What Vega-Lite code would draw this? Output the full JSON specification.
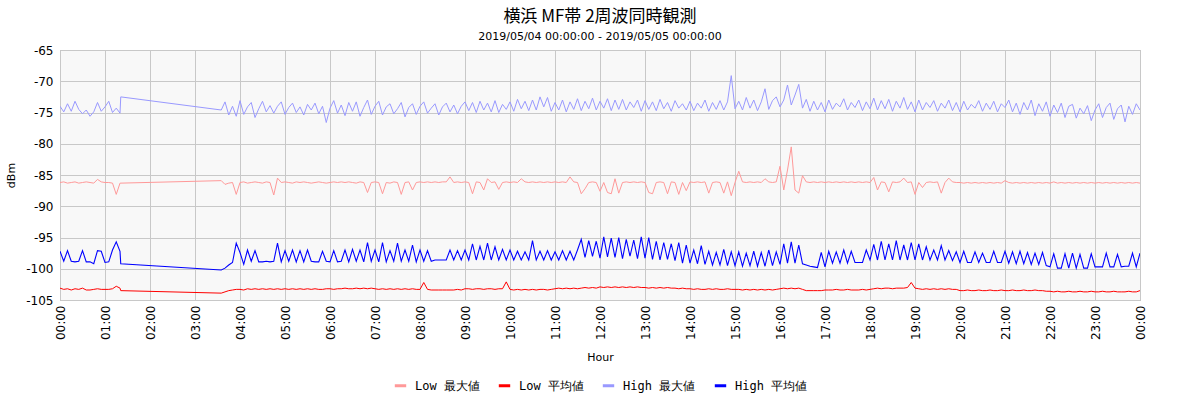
{
  "$schema": "https://vega.github.io/schema/vega-lite/v6.json",
  "description": "Yokohama MF band, two-frequency simultaneous observation, 2019-05-04.",
  "autosize": {"type": "none"},
  "padding": {"left": 60, "top": 50, "right": 60, "bottom": 100},
  "width": 1080,
  "height": 250,
  "background": "#ffffff",
  "title": {
    "text": "横浜 MF帯 2周波同時観測",
    "subtitle": "2019/05/04 00:00:00 - 2019/05/05 00:00:00",
    "anchor": "middle",
    "font": "Noto Sans CJK JP",
    "fontSize": 17,
    "fontWeight": "normal",
    "color": "#000000",
    "subtitleFont": "DejaVu Sans",
    "subtitleFontSize": 11,
    "subtitleColor": "#000000",
    "subtitlePadding": 5,
    "offset": 1
  },
  "data": {
    "values": [
      {"m": 0, "lm": -86.2, "la": -103.1, "hm": -74.0, "ha": -97.2},
      {"m": 5, "lm": -86.1, "la": -103.3, "hm": -74.9, "ha": -98.8},
      {"m": 10, "lm": -86.3, "la": -103.2, "hm": -73.6, "ha": -97.1},
      {"m": 15, "lm": -86.2, "la": -103.4, "hm": -74.8, "ha": -98.8},
      {"m": 20, "lm": -86.1, "la": -103.2, "hm": -73.2, "ha": -98.9},
      {"m": 25, "lm": -86.3, "la": -103.3, "hm": -74.5, "ha": -98.8},
      {"m": 30, "lm": -86.2, "la": -103.1, "hm": -75.2, "ha": -97.1},
      {"m": 35, "lm": -86.1, "la": -103.4, "hm": -74.6, "ha": -98.9},
      {"m": 40, "lm": -86.2, "la": -103.4, "hm": -75.6, "ha": -98.9},
      {"m": 45, "lm": -86.3, "la": -103.3, "hm": -74.9, "ha": -99.2},
      {"m": 50, "lm": -85.7, "la": -103.2, "hm": -73.4, "ha": -97.1},
      {"m": 55, "lm": -86.1, "la": -103.3, "hm": -74.8, "ha": -97.2},
      {"m": 60, "lm": -86.2, "la": -103.3, "hm": -74.1, "ha": -99.0},
      {"m": 65, "lm": -86.2, "la": -103.3, "hm": -73.2, "ha": -98.9},
      {"m": 70, "lm": -86.3, "la": -103.2, "hm": -75.0, "ha": -97.0},
      {"m": 75, "lm": -88.1, "la": -102.8, "hm": -74.3, "ha": -95.7},
      {"m": 80, "lm": -86.3, "la": -103.1, "hm": -75.1, "ha": -97.2},
      {"m": 81, "lm": -86.3, "la": -103.5, "hm": -72.5, "ha": -99.2},
      {"m": 215, "lm": -85.9, "la": -103.9, "hm": -74.6, "ha": -100.2},
      {"m": 220, "lm": -86.5, "la": -103.7, "hm": -73.3, "ha": -99.9},
      {"m": 225, "lm": -86.3, "la": -103.5, "hm": -75.4, "ha": -99.4},
      {"m": 230, "lm": -86.2, "la": -103.4, "hm": -74.0, "ha": -99.0},
      {"m": 235, "lm": -88.1, "la": -103.3, "hm": -75.6, "ha": -95.9},
      {"m": 240, "lm": -86.2, "la": -103.3, "hm": -73.1, "ha": -97.4},
      {"m": 245, "lm": -86.1, "la": -103.4, "hm": -75.3, "ha": -99.3},
      {"m": 250, "lm": -86.3, "la": -103.2, "hm": -74.1, "ha": -97.0},
      {"m": 255, "lm": -86.2, "la": -103.3, "hm": -73.4, "ha": -98.8},
      {"m": 260, "lm": -86.1, "la": -103.2, "hm": -75.8, "ha": -97.1},
      {"m": 265, "lm": -86.2, "la": -103.3, "hm": -74.4, "ha": -98.9},
      {"m": 270, "lm": -86.3, "la": -103.2, "hm": -73.2, "ha": -98.9},
      {"m": 275, "lm": -86.1, "la": -103.3, "hm": -74.9, "ha": -98.8},
      {"m": 280, "lm": -86.2, "la": -103.2, "hm": -73.9, "ha": -98.9},
      {"m": 285, "lm": -88.2, "la": -103.3, "hm": -75.1, "ha": -98.8},
      {"m": 290, "lm": -85.5, "la": -103.2, "hm": -74.0, "ha": -95.9},
      {"m": 295, "lm": -86.2, "la": -103.3, "hm": -73.3, "ha": -98.9},
      {"m": 300, "lm": -86.1, "la": -103.2, "hm": -75.3, "ha": -97.1},
      {"m": 305, "lm": -86.2, "la": -103.3, "hm": -74.2, "ha": -98.8},
      {"m": 310, "lm": -86.3, "la": -103.2, "hm": -73.5, "ha": -97.0},
      {"m": 315, "lm": -86.1, "la": -103.3, "hm": -75.0, "ha": -98.9},
      {"m": 320, "lm": -86.2, "la": -103.2, "hm": -74.1, "ha": -97.1},
      {"m": 325, "lm": -86.1, "la": -103.3, "hm": -75.4, "ha": -98.9},
      {"m": 330, "lm": -86.2, "la": -103.2, "hm": -73.7, "ha": -97.0},
      {"m": 335, "lm": -86.3, "la": -103.3, "hm": -74.6, "ha": -98.8},
      {"m": 340, "lm": -86.2, "la": -103.2, "hm": -73.5, "ha": -98.9},
      {"m": 345, "lm": -86.1, "la": -103.3, "hm": -75.2, "ha": -98.9},
      {"m": 350, "lm": -86.2, "la": -103.3, "hm": -74.0, "ha": -97.2},
      {"m": 355, "lm": -86.3, "la": -103.2, "hm": -76.6, "ha": -98.8},
      {"m": 360, "lm": -86.2, "la": -103.2, "hm": -74.3, "ha": -98.9},
      {"m": 365, "lm": -86.1, "la": -103.3, "hm": -73.1, "ha": -97.1},
      {"m": 370, "lm": -86.2, "la": -103.2, "hm": -75.1, "ha": -98.9},
      {"m": 375, "lm": -86.1, "la": -103.2, "hm": -73.8, "ha": -98.8},
      {"m": 380, "lm": -86.2, "la": -103.1, "hm": -75.5, "ha": -97.0},
      {"m": 385, "lm": -86.1, "la": -103.2, "hm": -73.4, "ha": -98.9},
      {"m": 390, "lm": -86.2, "la": -103.2, "hm": -74.8, "ha": -96.9},
      {"m": 395, "lm": -86.3, "la": -103.1, "hm": -73.3, "ha": -98.8},
      {"m": 400, "lm": -86.1, "la": -103.2, "hm": -75.6, "ha": -97.0},
      {"m": 405, "lm": -86.2, "la": -103.1, "hm": -74.2, "ha": -98.9},
      {"m": 410, "lm": -87.8, "la": -103.2, "hm": -73.0, "ha": -95.8},
      {"m": 415, "lm": -86.2, "la": -103.1, "hm": -75.3, "ha": -98.8},
      {"m": 420, "lm": -86.1, "la": -103.2, "hm": -74.0, "ha": -97.0},
      {"m": 425, "lm": -86.2, "la": -103.3, "hm": -73.2, "ha": -98.9},
      {"m": 430, "lm": -88.0, "la": -103.2, "hm": -75.4, "ha": -95.8},
      {"m": 435, "lm": -86.2, "la": -103.3, "hm": -74.1, "ha": -98.9},
      {"m": 440, "lm": -86.3, "la": -103.2, "hm": -73.6, "ha": -97.1},
      {"m": 445, "lm": -86.1, "la": -103.3, "hm": -75.2, "ha": -98.8},
      {"m": 450, "lm": -86.2, "la": -103.2, "hm": -74.4, "ha": -95.9},
      {"m": 455, "lm": -88.1, "la": -103.3, "hm": -73.4, "ha": -98.8},
      {"m": 460, "lm": -86.2, "la": -103.2, "hm": -75.7, "ha": -97.0},
      {"m": 465, "lm": -86.1, "la": -103.3, "hm": -74.2, "ha": -98.8},
      {"m": 470, "lm": -87.4, "la": -103.2, "hm": -73.6, "ha": -96.2},
      {"m": 475, "lm": -86.2, "la": -103.3, "hm": -75.3, "ha": -98.9},
      {"m": 480, "lm": -86.1, "la": -103.3, "hm": -74.0, "ha": -97.0},
      {"m": 485, "lm": -86.2, "la": -102.2, "hm": -73.3, "ha": -98.8},
      {"m": 490, "lm": -86.1, "la": -103.3, "hm": -75.1, "ha": -97.1},
      {"m": 495, "lm": -86.2, "la": -103.4, "hm": -74.3, "ha": -98.8},
      {"m": 500, "lm": -86.1, "la": -103.4, "hm": -73.6, "ha": -98.6},
      {"m": 505, "lm": -86.2, "la": -103.4, "hm": -75.4, "ha": -98.6},
      {"m": 510, "lm": -86.1, "la": -103.4, "hm": -74.1, "ha": -98.6},
      {"m": 515, "lm": -86.1, "la": -103.4, "hm": -73.5, "ha": -98.6},
      {"m": 520, "lm": -85.3, "la": -103.4, "hm": -74.9, "ha": -97.0},
      {"m": 525, "lm": -86.2, "la": -103.4, "hm": -73.8, "ha": -98.6},
      {"m": 530, "lm": -86.1, "la": -103.3, "hm": -75.2, "ha": -97.1},
      {"m": 535, "lm": -86.2, "la": -103.4, "hm": -74.0, "ha": -98.6},
      {"m": 540, "lm": -86.1, "la": -103.2, "hm": -73.3, "ha": -97.0},
      {"m": 545, "lm": -86.2, "la": -103.2, "hm": -74.7, "ha": -98.6},
      {"m": 550, "lm": -88.0, "la": -103.3, "hm": -73.4, "ha": -96.0},
      {"m": 555, "lm": -86.1, "la": -103.2, "hm": -75.0, "ha": -98.6},
      {"m": 560, "lm": -86.2, "la": -103.2, "hm": -73.2, "ha": -96.4},
      {"m": 565, "lm": -87.4, "la": -103.3, "hm": -74.6, "ha": -98.6},
      {"m": 570, "lm": -85.6, "la": -103.2, "hm": -73.5, "ha": -95.9},
      {"m": 575, "lm": -86.2, "la": -103.2, "hm": -74.9, "ha": -98.6},
      {"m": 580, "lm": -86.1, "la": -103.3, "hm": -73.1, "ha": -96.5},
      {"m": 585, "lm": -87.3, "la": -103.2, "hm": -75.0, "ha": -98.6},
      {"m": 590, "lm": -86.2, "la": -103.2, "hm": -73.7, "ha": -96.9},
      {"m": 595, "lm": -86.1, "la": -102.1, "hm": -74.5, "ha": -98.6},
      {"m": 600, "lm": -86.2, "la": -103.3, "hm": -73.3, "ha": -97.0},
      {"m": 605, "lm": -86.1, "la": -103.4, "hm": -74.8, "ha": -98.6},
      {"m": 610, "lm": -86.2, "la": -103.3, "hm": -72.9, "ha": -97.2},
      {"m": 615, "lm": -85.6, "la": -103.4, "hm": -74.4, "ha": -98.6},
      {"m": 620, "lm": -86.1, "la": -103.3, "hm": -73.2, "ha": -97.3},
      {"m": 625, "lm": -86.2, "la": -103.4, "hm": -74.7, "ha": -98.6},
      {"m": 630, "lm": -86.1, "la": -103.3, "hm": -73.0, "ha": -95.5},
      {"m": 635, "lm": -86.2, "la": -103.4, "hm": -74.6, "ha": -98.6},
      {"m": 640, "lm": -86.1, "la": -103.3, "hm": -72.5, "ha": -97.2},
      {"m": 645, "lm": -86.2, "la": -103.3, "hm": -74.1, "ha": -98.6},
      {"m": 650, "lm": -86.1, "la": -103.4, "hm": -72.6, "ha": -97.1},
      {"m": 655, "lm": -86.2, "la": -103.3, "hm": -74.8, "ha": -98.6},
      {"m": 660, "lm": -86.1, "la": -103.2, "hm": -73.4, "ha": -97.3},
      {"m": 665, "lm": -86.2, "la": -103.1, "hm": -74.6, "ha": -98.6},
      {"m": 670, "lm": -86.1, "la": -103.2, "hm": -73.0, "ha": -97.1},
      {"m": 675, "lm": -86.2, "la": -103.1, "hm": -74.9, "ha": -98.6},
      {"m": 680, "lm": -85.3, "la": -103.2, "hm": -73.3, "ha": -97.2},
      {"m": 685, "lm": -86.1, "la": -103.1, "hm": -74.5, "ha": -98.6},
      {"m": 690, "lm": -86.2, "la": -103.2, "hm": -72.8, "ha": -97.0},
      {"m": 695, "lm": -88.0, "la": -103.1, "hm": -74.7, "ha": -95.3},
      {"m": 700, "lm": -87.2, "la": -103.0, "hm": -73.2, "ha": -98.2},
      {"m": 705, "lm": -86.2, "la": -103.1, "hm": -74.4, "ha": -95.5},
      {"m": 710, "lm": -86.1, "la": -103.0, "hm": -72.7, "ha": -98.0},
      {"m": 715, "lm": -86.2, "la": -103.1, "hm": -74.6, "ha": -95.6},
      {"m": 720, "lm": -87.6, "la": -102.9, "hm": -73.2, "ha": -98.3},
      {"m": 725, "lm": -86.2, "la": -103.0, "hm": -74.3, "ha": -94.9},
      {"m": 730, "lm": -87.8, "la": -102.9, "hm": -72.8, "ha": -98.1},
      {"m": 735, "lm": -88.0, "la": -103.0, "hm": -74.7, "ha": -95.1},
      {"m": 740, "lm": -85.6, "la": -102.9, "hm": -73.0, "ha": -98.2},
      {"m": 745, "lm": -87.9, "la": -103.0, "hm": -74.5, "ha": -95.0},
      {"m": 750, "lm": -86.2, "la": -102.9, "hm": -72.9, "ha": -98.4},
      {"m": 755, "lm": -86.1, "la": -103.0, "hm": -74.6, "ha": -95.3},
      {"m": 760, "lm": -86.2, "la": -102.9, "hm": -73.3, "ha": -98.0},
      {"m": 765, "lm": -86.1, "la": -103.0, "hm": -74.2, "ha": -95.4},
      {"m": 770, "lm": -86.2, "la": -102.9, "hm": -73.0, "ha": -98.4},
      {"m": 775, "lm": -86.1, "la": -103.0, "hm": -74.8, "ha": -94.9},
      {"m": 780, "lm": -86.2, "la": -103.0, "hm": -73.1, "ha": -98.3},
      {"m": 785, "lm": -87.8, "la": -103.1, "hm": -74.5, "ha": -95.0},
      {"m": 790, "lm": -88.0, "la": -103.0, "hm": -73.3, "ha": -98.5},
      {"m": 795, "lm": -86.2, "la": -103.1, "hm": -74.7, "ha": -95.6},
      {"m": 800, "lm": -86.1, "la": -103.0, "hm": -72.9, "ha": -98.6},
      {"m": 805, "lm": -86.2, "la": -103.1, "hm": -74.4, "ha": -95.8},
      {"m": 810, "lm": -88.0, "la": -103.0, "hm": -73.4, "ha": -98.5},
      {"m": 815, "lm": -86.1, "la": -103.1, "hm": -74.8, "ha": -96.0},
      {"m": 820, "lm": -86.2, "la": -103.1, "hm": -73.1, "ha": -98.7},
      {"m": 825, "lm": -88.1, "la": -103.2, "hm": -74.3, "ha": -95.8},
      {"m": 830, "lm": -86.2, "la": -103.1, "hm": -73.6, "ha": -99.1},
      {"m": 835, "lm": -87.5, "la": -103.2, "hm": -74.6, "ha": -96.2},
      {"m": 840, "lm": -86.1, "la": -103.2, "hm": -73.2, "ha": -99.1},
      {"m": 845, "lm": -86.2, "la": -103.3, "hm": -74.7, "ha": -97.0},
      {"m": 850, "lm": -86.1, "la": -103.2, "hm": -73.5, "ha": -99.2},
      {"m": 855, "lm": -86.2, "la": -103.3, "hm": -74.3, "ha": -96.3},
      {"m": 860, "lm": -86.1, "la": -103.3, "hm": -73.0, "ha": -99.3},
      {"m": 865, "lm": -87.9, "la": -103.2, "hm": -74.8, "ha": -97.2},
      {"m": 870, "lm": -86.2, "la": -103.3, "hm": -73.4, "ha": -99.4},
      {"m": 875, "lm": -86.1, "la": -103.2, "hm": -74.5, "ha": -97.4},
      {"m": 880, "lm": -86.2, "la": -103.3, "hm": -73.1, "ha": -99.4},
      {"m": 885, "lm": -87.9, "la": -103.3, "hm": -74.6, "ha": -96.9},
      {"m": 890, "lm": -86.1, "la": -103.2, "hm": -73.3, "ha": -99.5},
      {"m": 895, "lm": -88.3, "la": -103.3, "hm": -69.1, "ha": -97.3},
      {"m": 900, "lm": -86.2, "la": -103.3, "hm": -74.4, "ha": -99.5},
      {"m": 905, "lm": -84.4, "la": -103.3, "hm": -73.2, "ha": -97.3},
      {"m": 910, "lm": -86.1, "la": -103.4, "hm": -74.6, "ha": -99.6},
      {"m": 915, "lm": -86.2, "la": -103.3, "hm": -72.6, "ha": -97.5},
      {"m": 920, "lm": -86.1, "la": -103.4, "hm": -74.3, "ha": -99.5},
      {"m": 925, "lm": -86.2, "la": -103.3, "hm": -73.0, "ha": -97.2},
      {"m": 930, "lm": -86.1, "la": -103.4, "hm": -74.7, "ha": -99.6},
      {"m": 935, "lm": -86.2, "la": -103.3, "hm": -73.3, "ha": -97.4},
      {"m": 940, "lm": -85.6, "la": -103.4, "hm": -71.2, "ha": -99.6},
      {"m": 945, "lm": -86.1, "la": -103.3, "hm": -74.5, "ha": -97.0},
      {"m": 950, "lm": -86.2, "la": -103.4, "hm": -73.1, "ha": -99.5},
      {"m": 955, "lm": -86.1, "la": -103.3, "hm": -72.5, "ha": -97.3},
      {"m": 960, "lm": -83.6, "la": -103.2, "hm": -74.1, "ha": -99.3},
      {"m": 965, "lm": -87.4, "la": -103.1, "hm": -73.0, "ha": -96.0},
      {"m": 970, "lm": -84.2, "la": -103.2, "hm": -70.6, "ha": -99.1},
      {"m": 975, "lm": -80.5, "la": -103.1, "hm": -73.8, "ha": -95.7},
      {"m": 980, "lm": -87.4, "la": -103.2, "hm": -72.2, "ha": -99.1},
      {"m": 985, "lm": -87.9, "la": -103.1, "hm": -70.5, "ha": -96.2},
      {"m": 990, "lm": -85.1, "la": -103.3, "hm": -74.3, "ha": -99.2},
      {"m": 995, "lm": -86.1, "la": -103.5, "hm": -72.9, "ha": -99.4},
      {"m": 1000, "lm": -86.2, "la": -103.5, "hm": -74.8, "ha": -99.6},
      {"m": 1005, "lm": -86.1, "la": -103.5, "hm": -73.2, "ha": -99.7},
      {"m": 1010, "lm": -86.2, "la": -103.5, "hm": -74.6, "ha": -99.8},
      {"m": 1015, "lm": -86.1, "la": -103.5, "hm": -73.4, "ha": -97.4},
      {"m": 1020, "lm": -86.2, "la": -103.4, "hm": -74.9, "ha": -99.7},
      {"m": 1025, "lm": -86.1, "la": -103.4, "hm": -73.0, "ha": -97.2},
      {"m": 1030, "lm": -86.2, "la": -103.4, "hm": -74.5, "ha": -99.1},
      {"m": 1035, "lm": -86.1, "la": -103.3, "hm": -73.5, "ha": -97.3},
      {"m": 1040, "lm": -86.2, "la": -103.4, "hm": -74.1, "ha": -99.1},
      {"m": 1045, "lm": -86.1, "la": -103.4, "hm": -72.8, "ha": -97.0},
      {"m": 1050, "lm": -86.2, "la": -103.3, "hm": -74.6, "ha": -99.1},
      {"m": 1055, "lm": -86.1, "la": -103.4, "hm": -73.4, "ha": -97.2},
      {"m": 1060, "lm": -86.2, "la": -103.4, "hm": -74.2, "ha": -99.0},
      {"m": 1065, "lm": -86.1, "la": -103.4, "hm": -73.0, "ha": -99.0},
      {"m": 1070, "lm": -86.2, "la": -103.3, "hm": -74.7, "ha": -99.0},
      {"m": 1075, "lm": -86.1, "la": -103.4, "hm": -73.3, "ha": -97.0},
      {"m": 1080, "lm": -86.2, "la": -103.3, "hm": -74.4, "ha": -98.6},
      {"m": 1085, "lm": -85.4, "la": -103.2, "hm": -72.7, "ha": -96.1},
      {"m": 1090, "lm": -87.4, "la": -103.1, "hm": -74.6, "ha": -98.6},
      {"m": 1095, "lm": -86.1, "la": -103.2, "hm": -73.1, "ha": -95.6},
      {"m": 1100, "lm": -86.2, "la": -103.1, "hm": -74.4, "ha": -98.6},
      {"m": 1105, "lm": -87.7, "la": -103.1, "hm": -72.9, "ha": -96.0},
      {"m": 1110, "lm": -86.1, "la": -103.2, "hm": -74.8, "ha": -98.6},
      {"m": 1115, "lm": -86.2, "la": -103.1, "hm": -73.2, "ha": -95.5},
      {"m": 1120, "lm": -86.1, "la": -103.1, "hm": -74.3, "ha": -98.6},
      {"m": 1125, "lm": -85.5, "la": -103.1, "hm": -72.6, "ha": -96.2},
      {"m": 1130, "lm": -86.2, "la": -103.0, "hm": -74.5, "ha": -98.6},
      {"m": 1135, "lm": -86.1, "la": -102.2, "hm": -73.3, "ha": -95.8},
      {"m": 1140, "lm": -88.1, "la": -103.1, "hm": -74.9, "ha": -98.6},
      {"m": 1145, "lm": -86.2, "la": -103.2, "hm": -73.0, "ha": -96.0},
      {"m": 1150, "lm": -87.0, "la": -103.3, "hm": -74.6, "ha": -98.6},
      {"m": 1155, "lm": -86.2, "la": -103.2, "hm": -73.4, "ha": -96.5},
      {"m": 1160, "lm": -86.1, "la": -103.3, "hm": -74.2, "ha": -98.6},
      {"m": 1165, "lm": -86.2, "la": -103.2, "hm": -73.1, "ha": -97.0},
      {"m": 1170, "lm": -86.1, "la": -103.3, "hm": -74.8, "ha": -98.6},
      {"m": 1175, "lm": -87.9, "la": -103.2, "hm": -73.5, "ha": -96.3},
      {"m": 1180, "lm": -86.2, "la": -103.3, "hm": -74.3, "ha": -98.6},
      {"m": 1185, "lm": -85.5, "la": -103.2, "hm": -73.0, "ha": -97.1},
      {"m": 1190, "lm": -86.1, "la": -103.3, "hm": -74.7, "ha": -98.7},
      {"m": 1195, "lm": -86.2, "la": -103.3, "hm": -73.4, "ha": -97.3},
      {"m": 1200, "lm": -86.2, "la": -103.5, "hm": -74.9, "ha": -99.0},
      {"m": 1205, "lm": -86.3, "la": -103.5, "hm": -73.2, "ha": -97.2},
      {"m": 1210, "lm": -86.2, "la": -103.4, "hm": -74.6, "ha": -99.0},
      {"m": 1215, "lm": -86.3, "la": -103.5, "hm": -73.7, "ha": -99.0},
      {"m": 1220, "lm": -86.2, "la": -103.5, "hm": -74.3, "ha": -97.3},
      {"m": 1225, "lm": -86.3, "la": -103.4, "hm": -73.1, "ha": -99.0},
      {"m": 1230, "lm": -86.2, "la": -103.5, "hm": -74.8, "ha": -97.5},
      {"m": 1235, "lm": -86.3, "la": -103.5, "hm": -73.5, "ha": -99.0},
      {"m": 1240, "lm": -86.2, "la": -103.4, "hm": -74.5, "ha": -99.0},
      {"m": 1245, "lm": -86.3, "la": -103.5, "hm": -73.2, "ha": -97.2},
      {"m": 1250, "lm": -86.2, "la": -103.5, "hm": -74.9, "ha": -99.0},
      {"m": 1255, "lm": -86.3, "la": -103.4, "hm": -73.6, "ha": -99.0},
      {"m": 1260, "lm": -85.9, "la": -103.5, "hm": -74.2, "ha": -97.2},
      {"m": 1265, "lm": -86.2, "la": -103.5, "hm": -73.0, "ha": -99.1},
      {"m": 1270, "lm": -86.3, "la": -103.4, "hm": -74.9, "ha": -97.3},
      {"m": 1275, "lm": -86.2, "la": -103.5, "hm": -73.5, "ha": -99.2},
      {"m": 1280, "lm": -86.3, "la": -103.5, "hm": -75.3, "ha": -97.2},
      {"m": 1285, "lm": -86.2, "la": -103.4, "hm": -73.4, "ha": -99.2},
      {"m": 1290, "lm": -86.3, "la": -103.5, "hm": -74.6, "ha": -97.4},
      {"m": 1295, "lm": -86.2, "la": -103.5, "hm": -73.0, "ha": -99.3},
      {"m": 1300, "lm": -86.3, "la": -103.4, "hm": -75.5, "ha": -97.5},
      {"m": 1305, "lm": -86.2, "la": -103.5, "hm": -73.6, "ha": -99.3},
      {"m": 1310, "lm": -86.3, "la": -103.5, "hm": -74.8, "ha": -97.4},
      {"m": 1315, "lm": -86.2, "la": -103.6, "hm": -73.3, "ha": -99.5},
      {"m": 1320, "lm": -86.3, "la": -103.6, "hm": -75.6, "ha": -99.7},
      {"m": 1325, "lm": -86.1, "la": -103.7, "hm": -73.8, "ha": -97.6},
      {"m": 1330, "lm": -86.3, "la": -103.6, "hm": -75.0, "ha": -99.9},
      {"m": 1335, "lm": -86.2, "la": -103.7, "hm": -73.5, "ha": -99.9},
      {"m": 1340, "lm": -86.3, "la": -103.7, "hm": -75.8, "ha": -97.6},
      {"m": 1345, "lm": -86.2, "la": -103.6, "hm": -74.0, "ha": -99.9},
      {"m": 1350, "lm": -86.3, "la": -103.7, "hm": -73.7, "ha": -97.5},
      {"m": 1355, "lm": -86.2, "la": -103.7, "hm": -75.9, "ha": -99.9},
      {"m": 1360, "lm": -86.3, "la": -103.6, "hm": -74.3, "ha": -97.7},
      {"m": 1365, "lm": -86.2, "la": -103.7, "hm": -75.2, "ha": -99.9},
      {"m": 1370, "lm": -86.3, "la": -103.7, "hm": -73.9, "ha": -99.9},
      {"m": 1375, "lm": -86.2, "la": -103.6, "hm": -76.3, "ha": -97.6},
      {"m": 1380, "lm": -86.3, "la": -103.7, "hm": -74.6, "ha": -99.7},
      {"m": 1385, "lm": -86.2, "la": -103.7, "hm": -73.6, "ha": -99.7},
      {"m": 1390, "lm": -86.3, "la": -103.6, "hm": -75.8, "ha": -99.7},
      {"m": 1395, "lm": -86.2, "la": -103.7, "hm": -74.2, "ha": -97.5},
      {"m": 1400, "lm": -86.3, "la": -103.7, "hm": -73.5, "ha": -99.7},
      {"m": 1405, "lm": -86.2, "la": -103.6, "hm": -76.1, "ha": -99.7},
      {"m": 1410, "lm": -86.3, "la": -103.7, "hm": -74.4, "ha": -97.7},
      {"m": 1415, "lm": -86.2, "la": -103.7, "hm": -73.8, "ha": -99.7},
      {"m": 1420, "lm": -86.3, "la": -103.7, "hm": -76.5, "ha": -99.6},
      {"m": 1425, "lm": -86.2, "la": -103.6, "hm": -74.0, "ha": -99.6},
      {"m": 1430, "lm": -86.3, "la": -103.7, "hm": -75.3, "ha": -97.5},
      {"m": 1435, "lm": -86.2, "la": -103.7, "hm": -73.6, "ha": -99.7},
      {"m": 1440, "lm": -86.3, "la": -103.5, "hm": -74.6, "ha": -97.5}
    ]
  },
  "encoding": {
    "x": {
      "field": "m",
      "type": "quantitative",
      "title": "Hour",
      "scale": {"domain": [0, 1440], "nice": false},
      "axis": {
        "values": [0, 60, 120, 180, 240, 300, 360, 420, 480, 540, 600, 660, 720, 780, 840, 900, 960, 1020, 1080, 1140, 1200, 1260, 1320, 1380, 1440],
        "labelExpr": "(floor(datum.value / 60) % 24 < 10 ? '0' : '') + (floor(datum.value / 60) % 24) + ':00'",
        "labelAngle": -90,
        "labelPadding": 5,
        "titlePadding": 12
      }
    }
  },
  "layer": [
    {
      "mark": {"type": "line", "strokeWidth": 1, "clip": true},
      "encoding": {
        "y": {
          "field": "lm",
          "type": "quantitative",
          "title": "dBm",
          "scale": {"domain": [-105, -65], "nice": false},
          "axis": {"values": [-105, -100, -95, -90, -85, -80, -75, -70, -65], "labelExpr": "'' + datum.value", "labelOverlap": false}
        },
        "color": {"datum": "Low 最大値"}
      }
    },
    {
      "mark": {"type": "line", "strokeWidth": 1, "clip": true},
      "encoding": {
        "y": {
          "field": "la",
          "type": "quantitative",
          "title": "dBm",
          "scale": {"domain": [-105, -65], "nice": false},
          "axis": {"values": [-105, -100, -95, -90, -85, -80, -75, -70, -65], "labelExpr": "'' + datum.value", "labelOverlap": false}
        },
        "color": {"datum": "Low 平均値"}
      }
    },
    {
      "mark": {"type": "line", "strokeWidth": 1, "clip": true},
      "encoding": {
        "y": {
          "field": "hm",
          "type": "quantitative",
          "title": "dBm",
          "scale": {"domain": [-105, -65], "nice": false},
          "axis": {"values": [-105, -100, -95, -90, -85, -80, -75, -70, -65], "labelExpr": "'' + datum.value", "labelOverlap": false}
        },
        "color": {"datum": "High 最大値"}
      }
    },
    {
      "mark": {"type": "line", "strokeWidth": 1.1, "clip": true},
      "encoding": {
        "y": {
          "field": "ha",
          "type": "quantitative",
          "title": "dBm",
          "scale": {"domain": [-105, -65], "nice": false},
          "axis": {"values": [-105, -100, -95, -90, -85, -80, -75, -70, -65], "labelExpr": "'' + datum.value", "labelOverlap": false}
        },
        "color": {
          "datum": "High 平均値",
          "scale": {
            "domain": ["Low 最大値", "Low 平均値", "High 最大値", "High 平均値"],
            "range": ["#ff9999", "#ff0000", "#9999ff", "#0000ff"]
          },
          "legend": {"title": null, "orient": "none", "legendX": 333, "legendY": 328}
        }
      }
    }
  ],
  "config": {
    "font": "DejaVu Sans",
    "view": {"fill": "#f8f8f8", "stroke": "#aaaaaa"},
    "axis": {
      "grid": true,
      "gridColor": "#c8c8c8",
      "gridOpacity": 1,
      "ticks": false,
      "domain": false,
      "labelFont": "DejaVu Sans",
      "labelFontSize": 12,
      "labelColor": "#000000",
      "titleFont": "DejaVu Sans",
      "titleFontSize": 11,
      "titleFontWeight": "normal",
      "titleColor": "#000000"
    },
    "axisY": {"labelPadding": 7, "titlePadding": 9},
    "legend": {
      "direction": "horizontal",
      "symbolType": "stroke",
      "symbolStrokeWidth": 3,
      "symbolSize": 130,
      "labelFont": "DejaVu Sans Mono",
      "labelFontSize": 12,
      "labelColor": "#000000",
      "labelOffset": 7,
      "columnPadding": 12
    }
  }
}
